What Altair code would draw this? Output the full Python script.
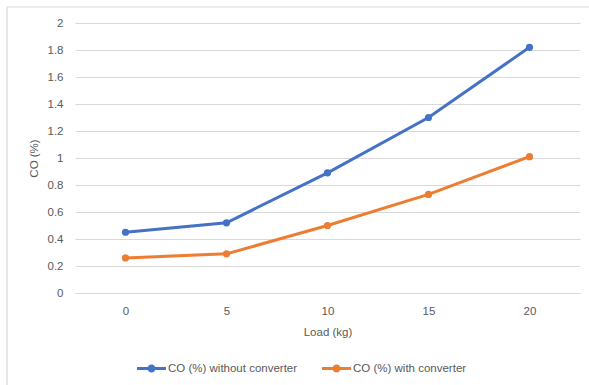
import altair as alt
import pandas as pd

# Load steps (kg) and CO readings (%) for each configuration
loads = ["0", "5", "10", "15", "20"]
co_without = [0.45, 0.52, 0.89, 1.30, 1.82]
co_with = [0.26, 0.29, 0.50, 0.73, 1.01]
series_names = ["CO (%) without converter", "CO (%) with converter"]
series_colors = ["#4472C4", "#ED7D31"]
y_ticks = [0, 0.2, 0.4, 0.6, 0.8, 1, 1.2, 1.4, 1.6, 1.8, 2]

rows = []
for name, values in zip(series_names, [co_without, co_with]):
    for load, v in zip(loads, values):
        rows.append({"Load": load, "CO": v, "Series": name})
df = pd.DataFrame(rows)

FONT = "Liberation Sans"
TEXT = "#595959"
GRID = "#D9D9D9"
FS = 11.5

# Legend glyph: a short thick line with a dot in the middle
glyph = ("M-1,-0.1 L1,-0.1 L1,0.1 L-1,0.1 Z "
         "M0.28,0 A0.28,0.28 0 1,1 -0.28,0 A0.28,0.28 0 1,1 0.28,0 Z")

x_enc = alt.X("Load:O", sort=loads,
              scale=alt.Scale(type="point", padding=0.5),
              axis=alt.Axis(title="Load (kg)", labelAngle=0, ticks=False,
                            domain=True, domainColor=GRID, domainWidth=1.2,
                            labelPadding=12, titlePadding=10, grid=False))
y_enc = alt.Y("CO:Q", scale=alt.Scale(domain=[0, 2], nice=False),
              axis=alt.Axis(title="CO (%)", values=y_ticks, format="~g",
                            ticks=False, domain=False, grid=True,
                            gridColor=GRID, gridWidth=1.2, labelPadding=12,
                            titlePadding=8))
color_enc = alt.Color("Series:N", sort=series_names,
                      scale=alt.Scale(domain=series_names, range=series_colors),
                      legend=alt.Legend(title=None, orient="none",
                                        direction="horizontal",
                                        legendX=62, legendY=331,
                                        symbolType=glyph, symbolSize=841,
                                        symbolStrokeWidth=0,
                                        labelOffset=2, columnPadding=24,
                                        labelFontSize=FS, labelColor=TEXT,
                                        labelFont=FONT))

lines = alt.Chart(df).mark_line(strokeWidth=3).encode(
    x=x_enc, y=y_enc, color=color_enc)
dots = alt.Chart(df).mark_point(filled=True, size=52, opacity=1).encode(
    x=x_enc, y=y_enc, color=color_enc)

# Thin frame along the top and left edges of the figure
frame_left = alt.Chart().mark_rule(color=GRID, strokeWidth=1.2).encode(
    x=alt.value(-68), y=alt.value(-16), y2=alt.value(362))
frame_top = alt.Chart().mark_rule(color=GRID, strokeWidth=1.2).encode(
    x=alt.value(-68), x2=alt.value(514), y=alt.value(-16))

chart = alt.layer(frame_left, frame_top, lines, dots).properties(
    width=505, height=270,
    autosize=alt.AutoSizeParams(type="none"),
    padding={"left": 75, "top": 23, "right": 9, "bottom": 92},
    background="white",
).configure_view(stroke=None).configure_axis(
    labelFont=FONT, titleFont=FONT, labelFontSize=FS, titleFontSize=FS,
    labelColor=TEXT, titleColor=TEXT, titleFontWeight="normal",
)

chart.save("out.html", embed_options={"renderer": "svg", "actions": False})
